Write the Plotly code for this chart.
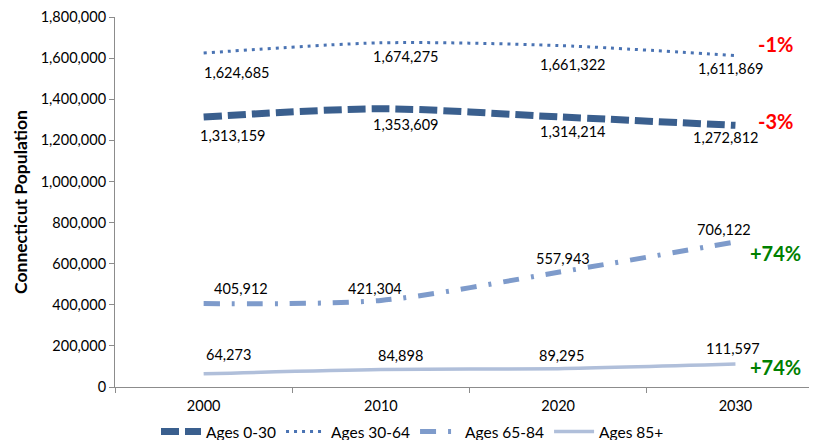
import plotly.graph_objects as go

years = ["2000", "2010", "2020", "2030"]
ages_0_30 = [1313159, 1353609, 1314214, 1272812]
ages_30_64 = [1624685, 1674275, 1661322, 1611869]
ages_65_84 = [405912, 421304, 557943, 706122]
ages_85p = [64273, 84898, 89295, 111597]
series_names = ["Ages 0-30", "Ages 30-64", "Ages 65-84", "Ages 85+"]
change_labels = ["-3%", "-1%", "+74%", "+74%"]

# label placement offsets (pixels), layout only
label_dx = [[29, 25, 14, -10], [33, 25, 14, -5], [37, -6, 5, -11], [25, 20, 3, -2]]
label_dy = [[-18, -16, -15, -12], [-19, -14, -19, -13], [15, 12, 14, 12], [19, 14, 13, 16]]

FONT = "Lato"
fig = go.Figure()

specs = [
    (ages_0_30, "#3A5F8E", 7, "18px,6px", 4),
    (ages_30_64, "#4A73B3", 3, "3px,5px", 12),
    (ages_65_84, "#7E9BCB", 5, "16px,12px,3px,12px", -11),
    (ages_85p, "#B0BFDA", 3.5, "solid", -3),
]
for k, (name, (vals, col, w, dash, pshift), lab) in enumerate(zip(series_names, specs, change_labels)):
    fig.add_trace(go.Scatter(
        x=years, y=vals, name=name, mode="lines",
        line=dict(color=col, width=w, dash=dash, shape="spline", smoothing=0.8),
        hoverinfo="skip",
    ))
    for i, v in enumerate(vals):
        fig.add_annotation(x=i, y=v, text=f"{v:,}", showarrow=False,
                           xref="x", yref="y", xshift=label_dx[k][i], yshift=label_dy[k][i],
                           font=dict(family=FONT, size=14.5, color="#000000"))
    colr = "#FF0000" if lab.startswith("-") else "#008000"
    fig.add_annotation(x=3.226, y=vals[-1], text=f"<b>{lab}</b>", showarrow=False,
                       xref="x", yref="y", xanchor="center", yanchor="middle",
                       yshift=pshift, font=dict(family=FONT, size=20, color=colr))

fig.update_layout(
    width=809, height=432,
    margin=dict(l=107, r=0, t=9, b=53, autoexpand=False),
    plot_bgcolor="white", paper_bgcolor="white",
    font=dict(family=FONT, size=13, color="#000000"),
    showlegend=True,
    legend=dict(orientation="h", xref="container", yref="container",
                x=0.5, xanchor="center", y=0.0185, yanchor="middle",
                font=dict(family=FONT, size=15.5), itemwidth=40, tracegroupgap=0),
    xaxis=dict(type="category", range=[-0.5, 3.46], showline=True, linecolor="#8C8C8C",
               ticks="outside", tickson="boundaries", tickcolor="#8C8C8C", ticklen=5,
               showgrid=False, automargin=False, ticklabelstandoff=6,
               tickfont=dict(family=FONT, size=14.5, color="#000000")),
    yaxis=dict(range=[0, 1800000], dtick=200000, tickformat=",d", showline=True,
               linecolor="#8C8C8C", ticks="outside", tickcolor="#8C8C8C", ticklen=5,
               showgrid=False, zeroline=False, automargin=False,
               title=dict(text="<b>Connecticut Population</b>",
                          font=dict(family=FONT, size=17.5, color="#000000"), standoff=8),
               tickfont=dict(family=FONT, size=14.5, color="#000000")),
)

fig.write_html("out.html")
